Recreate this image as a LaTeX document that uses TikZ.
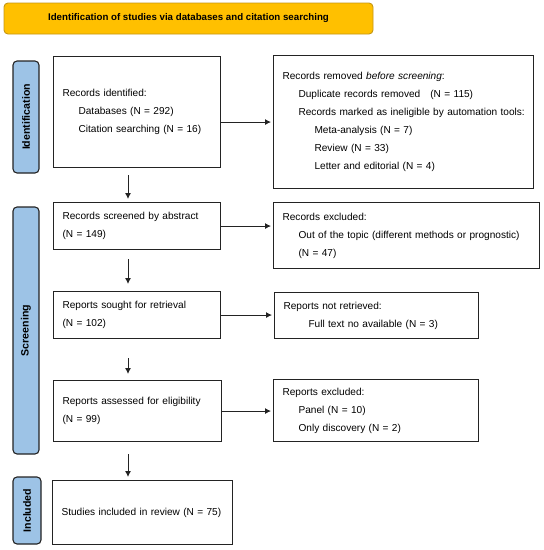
\documentclass[tikz,border=0pt]{standalone}
\usepackage{fontspec}
\setmainfont{Liberation Sans}
\usetikzlibrary{arrows.meta}

\definecolor{bannerfill}{RGB}{255,192,0}
\definecolor{bannerline}{RGB}{196,150,20}
\definecolor{sidefill}{RGB}{157,195,230}
\definecolor{boxline}{RGB}{35,35,35}

\tikzset{
  box/.style={draw=boxline, line width=1.1pt, anchor=north west, align=left,
    inner xsep=9pt, inner ysep=0pt, font=\fontsize{10.1}{18}\selectfont},
  side/.style={draw=boxline, line width=1.1pt, fill=sidefill, rounded corners=4pt,
    rotate=90, inner sep=0pt, font=\bfseries\fontsize{10.6}{13}\selectfont},
  arr/.style={line width=0.9pt, draw=boxline, -{Latex[length=6pt,width=6pt]}}
}

\newcommand{\ind}{\hspace*{16pt}}

\begin{document}
\begin{tikzpicture}[x=1pt,y=-1pt]

\useasboundingbox (0,0) rectangle (544,550);

% banner
\node[draw=bannerline, line width=0.9pt, fill=bannerfill, rounded corners=4pt,
  minimum width=369pt, minimum height=31pt, inner sep=0pt,
  font=\bfseries\fontsize{9.7}{12}\selectfont] (top) at (188.5,18.5)
  {Identification of studies via databases and citation searching};

% phase labels
\node[side, minimum width=112pt, minimum height=26pt] (ident) at (26,117) {Identification};
\node[side, minimum width=247pt, minimum height=26pt] (screen) at (26,330.5) {Screening};
\node[side, minimum width=67pt, minimum height=28pt] (incl) at (27,510.5) {Included};

% left column
\node[box, text width=149pt, minimum height=111pt] (b1) at (53,56)
  {Records identified:\\ \ind Databases (N = 292)\\ \ind Citation searching (N = 16)};
\node[box, text width=149pt, minimum height=47pt] (b2) at (53,202)
  {Records screened by abstract\\ (N = 149)};
\node[box, text width=149pt, minimum height=47pt] (b3) at (53,291)
  {Reports sought for retrieval\\ (N = 102)};
\node[box, text width=150pt, minimum height=61pt] (b4) at (53,380)
  {Reports assessed for eligibility\\ (N = 99)};
\node[box, text width=162pt, minimum height=64pt] (b5) at (52,480)
  {Studies included in review (N = 75)};

% right column
\node[box, text width=242pt, minimum height=133pt] (r1) at (273,55)
  {Records removed \emph{before screening}:\\
   \ind Duplicate records removed\hspace{10pt}(N = 115)\\
   \ind\mbox{Records marked as ineligible by automation tools:}\\
   \ind\ind Meta-analysis (N = 7)\\
   \ind\ind Review (N = 33)\\
   \ind\ind Letter and editorial (N = 4)};
\node[box, text width=248pt, minimum height=66pt] (r2) at (273,202)
  {Records excluded:\\
   \ind Out of the topic (different methods or prognostic)\\
   \ind (N = 47)};
\node[box, text width=186pt, minimum height=46pt] (r3) at (274,292)
  {Reports not retrieved:\\
   \hspace*{25pt}Full text no available (N = 3)};
\node[box, text width=187pt, minimum height=62pt] (r4) at (273,379)
  {Reports excluded:\\
   \ind Panel (N = 10)\\
   \ind Only discovery (N = 2)};

\coordinate (col) at (128,0);

% down
\draw[arr, shorten <=7pt, shorten >=3pt] (b1.south -| col) -- (b2.north -| col);
\draw[arr, shorten <=9pt, shorten >=7pt] (b2.south -| col) -- (b3.north -| col);
\draw[arr, shorten <=19pt, shorten >=6pt] (b3.south -| col) -- (b4.north -| col);
\draw[arr, shorten <=12pt, shorten >=3pt] (b4.south -| col) -- (b5.north -| col);

% across
\draw[arr, shorten >=2pt] (r1.west -| b1.east) -- (r1.west);
\draw[arr, shorten >=2pt] (b2.east) -- (b2.east -| r2.west);
\draw[arr, shorten >=2pt] (b3.east) -- (b3.east -| r3.west);
\draw[arr, shorten >=2pt] (b4.east) -- (b4.east -| r4.west);

\end{tikzpicture}
\end{document}
